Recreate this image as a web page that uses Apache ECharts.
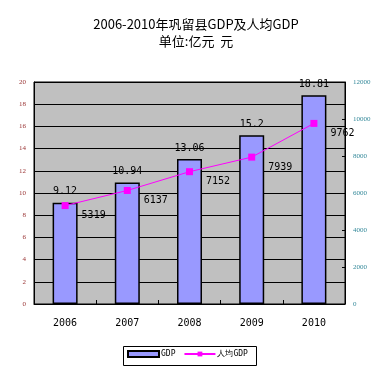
<!DOCTYPE html>
<html><head><meta charset="utf-8">
<script src="https://cdn.jsdelivr.net/npm/echarts@6/dist/echarts.min.js"></script>
<style>html,body{margin:0;padding:0;background:#fff}#c{width:392px;height:378px}</style>
</head><body><div id="c"></div>
<script>
var categories = ['2006','2007','2008','2009','2010'];
var gdp = [9.12, 10.94, 13.06, 15.2, 18.81];
var perCapita = [5319, 6137, 7152, 7939, 9762];
var gdpLabels = ['9.12','10.94','13.06','15.2','18.81'];
var leftTicks = {min:0, max:20, interval:2};
var rightTicks = {min:0, max:12000, interval:2000};

var chart = echarts.init(document.getElementById('c'));
var mono = 'DejaVu Sans Mono';
chart.setOption({
  animation:false,
  backgroundColor:'#fff',
  title:{
    text:'2006-2010年巩留县GDP及人均GDP\n单位:亿元  元',
    left:'center', top:11,
    textStyle:{fontSize:13, fontWeight:'normal', color:'#000', fontFamily:'Noto Sans CJK SC', lineHeight:17}
  },
  grid:{left:34, right:47, top:82, bottom:74, show:true, backgroundColor:'#C0C0C0', borderColor:'#000', borderWidth:1},
  graphic:[{type:'rect', left:123, top:346, shape:{width:133, height:19}, style:{fill:'#fff', stroke:'#000', lineWidth:1}, z:-1}],
  legend:{
    left:127, top:350,
    itemGap:8, itemWidth:31, itemHeight:6,
    padding:0,
    textStyle:{fontSize:8, color:'#000', fontFamily:mono, padding:[0,0,0,-3]},
    data:[{name:'GDP', icon:'rect'}, {name:'人均GDP'}]
  },
  xAxis:{
    type:'category', data:categories,
    axisLine:{lineStyle:{color:'#000'}},
    axisTick:{show:true, length:4, inside:true, lineStyle:{color:'#000'}},
    axisLabel:{fontSize:10, color:'#000', fontFamily:mono, margin:14}
  },
  yAxis:[{
    type:'value', min:leftTicks.min, max:leftTicks.max, interval:leftTicks.interval,
    axisLine:{show:true, lineStyle:{color:'#000'}},
    axisTick:{show:false},
    splitLine:{lineStyle:{color:'#000', width:1}},
    axisLabel:{fontSize:7, color:'#993333', fontFamily:'Liberation Serif', margin:8}
  },{
    type:'value', min:rightTicks.min, max:rightTicks.max, interval:rightTicks.interval,
    axisLine:{show:true, lineStyle:{color:'#000'}},
    axisTick:{show:true, inside:true, length:3, lineStyle:{color:'#000'}},
    splitLine:{show:false},
    axisLabel:{fontSize:7, color:'#338899', fontFamily:'Liberation Serif', margin:8,
      formatter:function(v){return String(v);}}
  }],
  series:[{
    name:'GDP', type:'bar', data:gdp, barWidth:25, yAxisIndex:0,
    itemStyle:{color:'#9999FF', borderColor:'#000', borderWidth:1.5},
    label:{show:true, position:'top', distance:6, fontSize:10, color:'#000', fontFamily:mono,
      formatter:function(p){return gdpLabels[p.dataIndex];}}
  },{
    name:'人均GDP', type:'line', data:perCapita, yAxisIndex:1,
    symbol:'rect', symbolSize:7,
    lineStyle:{color:'#FF00FF', width:1},
    itemStyle:{color:'#FF00FF'},
    label:{show:true, position:'right', offset:[8,10], fontSize:10, color:'#000', fontFamily:mono}
  }]
});
</script></body></html>
